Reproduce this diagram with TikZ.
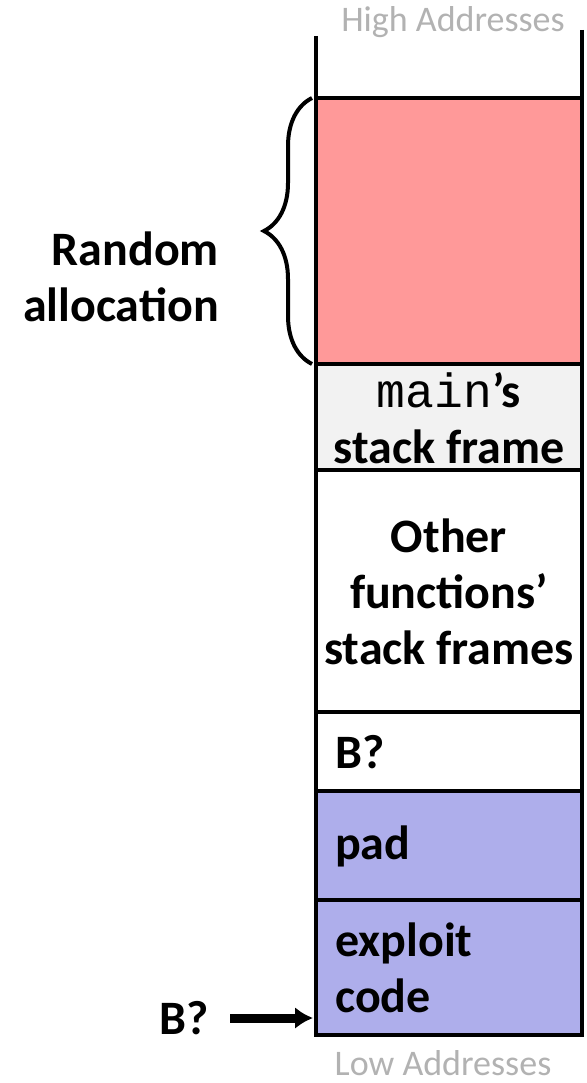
\documentclass[tikz,border=0pt]{standalone}
\usepackage{fontspec}
\setmainfont{Carlito}
\setmonofont{Liberation Mono}
\usetikzlibrary{arrows.meta,decorations.pathreplacing}
\definecolor{randred}{RGB}{255,153,153}
\definecolor{framegray}{RGB}{242,242,242}
\definecolor{padblue}{RGB}{174,174,235}
\definecolor{addrgray}{RGB}{178,178,178}
\tikzset{
  wall/.style={line width=4pt},
  cell/.style={line width=4pt},
  lbl/.style={font=\bfseries\fontsize{48}{56}\selectfont, align=center, inner sep=0pt},
  addr/.style={text=addrgray, font=\fontsize{36}{40}\selectfont, inner sep=0pt},
  pointer/.style={line width=9pt, -{Latex[length=18pt,width=22pt]}}
}

\begin{document}
\begin{tikzpicture}[x=1pt,y=-1pt]
    \useasboundingbox (0,0) rectangle (586,1083);
    % stack cells
    \fill [randred]    (316,98)  rectangle (582,364);
    \fill [framegray]  (316,364) rectangle (582,470);
    \fill [padblue]    (316,791) rectangle (582,1035);
    \begin{scope}[cell]
    \draw (316,98) -- (582,98);
    \draw (316,364) -- (582,364);
    \draw (316,470) -- (582,470);
    \draw (316,712) -- (582,712);
    \draw (316,791) -- (582,791);
    \draw (316,900) -- (582,900);
    \draw (314,1035) -- (584,1035);
    \end{scope}
    \draw [wall] (316,36) -- (316,1037);
    \draw [wall] (582,30) -- (582,1037);
    % texts
    \node [addr] (high) at (453,22) {High Addresses};
    \node [addr] (low) at (443,1063) {Low Addresses};
    \node [lbl] (mainf) at (449,418) {\mdseries\texttt{main}\bfseries’s\\stack frame};
    \node [lbl] (other) at (449,592) {Other\\functions’\\stack frames};
    \node [lbl, anchor=west] (bslot) at (335,752) {B?};
    \node [lbl, anchor=west] (pad) at (335,846) {pad};
    \node [lbl, align=left, anchor=west] (code) at (335,968) {exploit\\code};
    \node [lbl, align=right, anchor=east] (rand) at (219,277) {Random\\allocation};
    \node [lbl] (bq) at (184,1018) {B?};
    % brace and arrow
    \coordinate (btop) at (312,98);
    \coordinate (bbot) at (312,364);
    \draw [line width=4pt, decorate, decoration={brace, amplitude=48pt}] (bbot) -- (btop);
    \coordinate (tail) at (230,1018);
    \coordinate (entry) at (313,1018);
    \draw [pointer] (tail) -- (entry);
\end{tikzpicture}
\end{document}
